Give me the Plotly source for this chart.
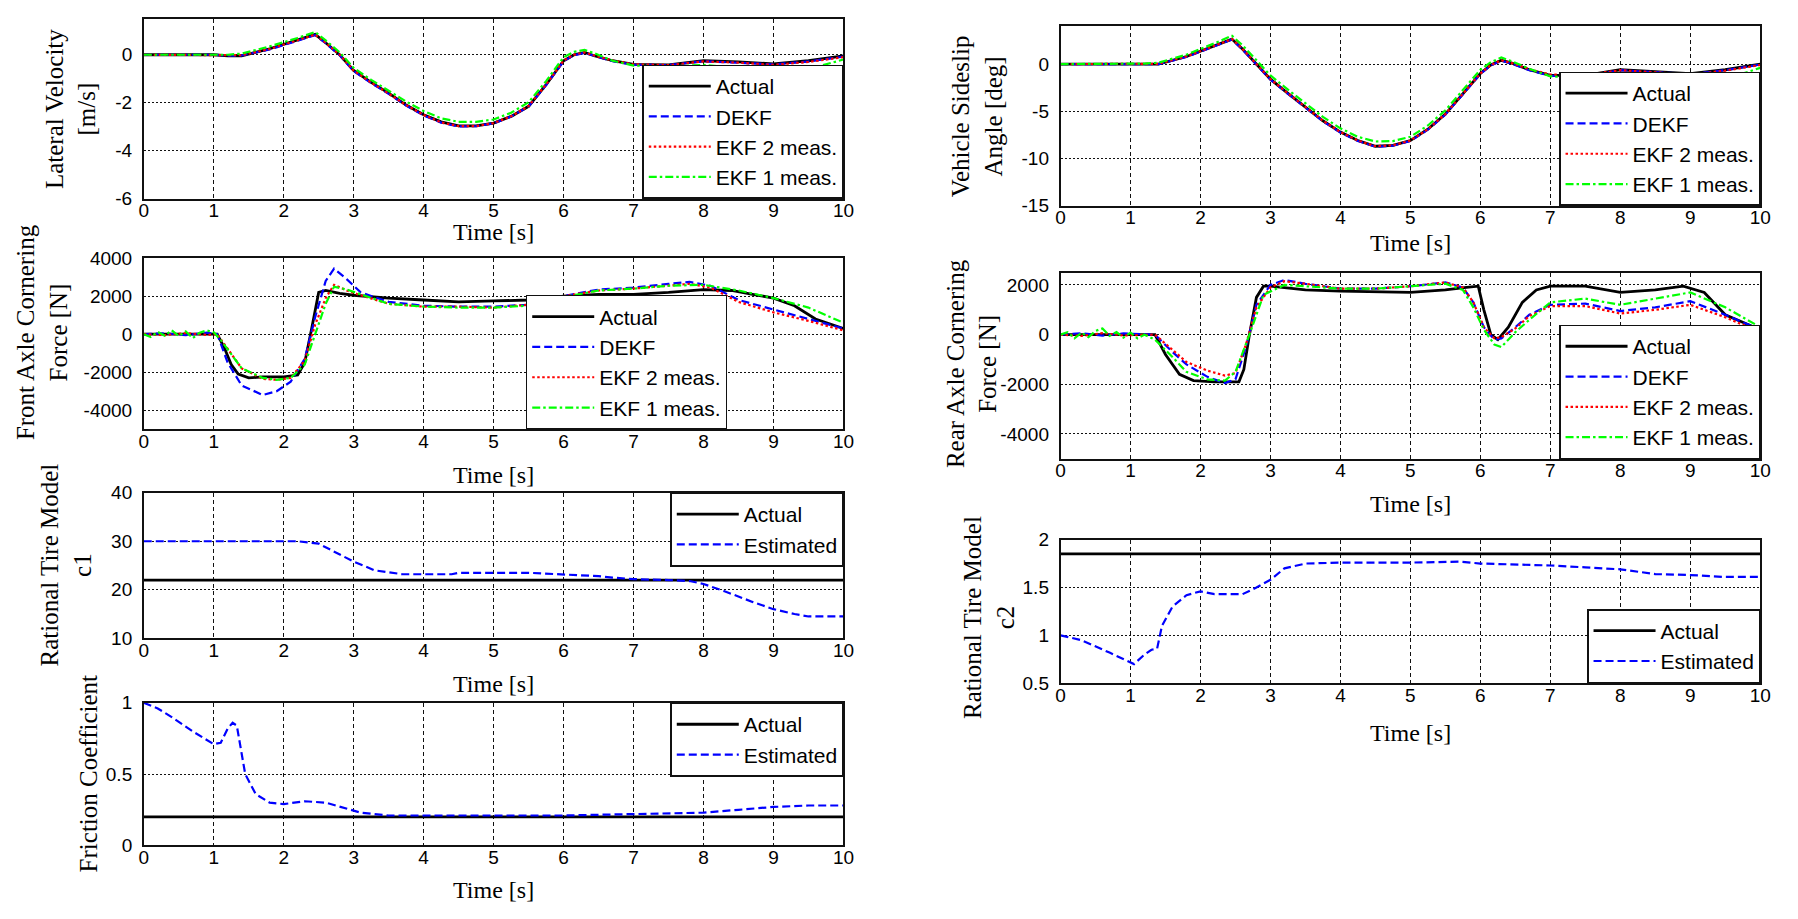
import plotly.graph_objects as go

# ---------------- data ----------------
# Lateral velocity [m/s] and sideslip angle [deg] share one time base
t_lat = [0, 1.0, 1.2, 1.4, 1.8, 2.2, 2.45, 2.6, 2.8, 3.0, 3.25, 3.5, 3.75, 4.0, 4.25, 4.5,
         4.75, 5.0, 5.25, 5.5, 5.75, 6.0, 6.15, 6.3, 6.45, 6.7, 7.0, 7.5, 8.0, 8.5, 9.0, 9.5, 10.0]

vy_actual = [0, 0, -0.05, -0.05, 0.25, 0.6, 0.85, 0.5, 0.0, -0.65, -1.15, -1.6, -2.1, -2.5, -2.8, -2.97,
             -2.97, -2.85, -2.57, -2.15, -1.25, -0.25, 0.0, 0.1, -0.05, -0.25, -0.4, -0.42, -0.25, -0.3, -0.38, -0.25, -0.05]
vy_dekf = [0, 0, -0.04, -0.03, 0.22, 0.57, 0.82, 0.48, -0.02, -0.68, -1.18, -1.63, -2.12, -2.53, -2.83, -2.99,
           -2.98, -2.86, -2.58, -2.16, -1.27, -0.27, -0.02, 0.08, -0.06, -0.27, -0.42, -0.43, -0.27, -0.32, -0.4, -0.28, -0.08]
vy_ekf2 = [0, 0, -0.03, -0.02, 0.24, 0.6, 0.84, 0.5, 0.0, -0.66, -1.16, -1.62, -2.1, -2.51, -2.82, -2.98,
           -2.98, -2.85, -2.57, -2.14, -1.24, -0.24, 0.0, 0.1, -0.04, -0.24, -0.4, -0.43, -0.28, -0.33, -0.42, -0.3, -0.1]
vy_ekf1 = [0, -0.02, 0.0, 0.05, 0.35, 0.7, 0.95, 0.6, 0.1, -0.55, -1.05, -1.5, -1.95, -2.35, -2.65, -2.8,
           -2.8, -2.7, -2.42, -1.98, -1.1, -0.1, 0.12, 0.2, 0.05, -0.25, -0.45, -0.5, -0.42, -0.55, -0.75, -0.6, -0.2]

beta_actual = [0, 0, 0, 0, 0.8, 1.9, 2.65, 1.6, 0.0, -1.6, -3.1, -4.6, -6.0, -7.2, -8.1, -8.7,
               -8.6, -8.1, -6.9, -5.3, -3.2, -1.0, -0.1, 0.4, 0.1, -0.6, -1.2, -1.2, -0.6, -0.8, -1.0, -0.6, 0.0]
beta_dekf = [0, 0, 0, 0, 0.75, 1.85, 2.6, 1.55, -0.05, -1.65, -3.15, -4.65, -6.05, -7.25, -8.15, -8.75,
             -8.65, -8.15, -6.95, -5.35, -3.25, -1.05, -0.15, 0.35, 0.05, -0.65, -1.25, -1.25, -0.65, -0.85, -1.05, -0.65, -0.05]
beta_ekf2 = [0, 0, 0.02, 0.03, 0.8, 1.9, 2.65, 1.6, 0.0, -1.6, -3.1, -4.6, -6.0, -7.2, -8.1, -8.7,
             -8.6, -8.1, -6.9, -5.3, -3.2, -1.0, -0.1, 0.4, 0.1, -0.55, -1.1, -1.15, -0.65, -0.9, -1.1, -0.7, -0.1]
beta_ekf1 = [0, 0, 0.05, 0.15, 1.0, 2.2, 3.0, 2.0, 0.4, -1.2, -2.7, -4.2, -5.6, -6.8, -7.7, -8.2,
             -8.15, -7.7, -6.5, -4.9, -2.8, -0.6, 0.2, 0.7, 0.3, -0.5, -1.3, -1.5, -1.0, -1.5, -2.1, -1.6, -0.4]

# Front axle cornering force [N]
t_ff_actual = [0, 1.05, 1.15, 1.25, 1.35, 1.5, 1.7, 2.0, 2.2, 2.3, 2.4, 2.5, 2.6, 2.8, 3.0, 3.5, 4.0,
               4.5, 5.0, 5.5, 6.0, 6.5, 7.0, 7.5, 8.0, 8.4, 8.7, 9.0, 9.3, 9.6, 10.0]
ff_actual = [0, 0, -700, -1600, -2100, -2300, -2250, -2250, -2150, -1500, 300, 2200, 2300, 2150, 2050, 1900, 1800,
             1700, 1750, 1800, 2000, 2100, 2100, 2200, 2350, 2300, 2100, 1900, 1500, 800, 300]
t_ff_est = [0, 0.3, 0.6, 0.9, 1.05, 1.2, 1.4, 1.7, 1.9, 2.1, 2.3, 2.45, 2.6, 2.72, 2.9, 3.1, 3.5, 4.0,
            4.5, 5.0, 5.5, 6.0, 6.5, 7.0, 7.5, 7.8, 8.1, 8.5, 9.0, 9.5, 10.0]
ff_dekf = [0, 50, -50, 80, 0, -1500, -2700, -3200, -3000, -2500, -1300, 900, 2800, 3450, 2900, 2200, 1700, 1500,
           1450, 1450, 1550, 2000, 2350, 2450, 2650, 2750, 2550, 1800, 1300, 800, 300]
ff_ekf2 = [0, -50, 60, -40, 0, -800, -1800, -2350, -2400, -2300, -1400, 500, 1900, 2600, 2300, 2050, 1600, 1450,
           1450, 1400, 1550, 2000, 2300, 2400, 2550, 2650, 2450, 1700, 1150, 700, 200]
t_ff_ekf1 = [0, 0.1, 0.2, 0.3, 0.4, 0.5, 0.6, 0.7, 0.8, 0.9, 1.0, 1.1, 1.2, 1.4, 1.7, 1.9, 2.1, 2.3, 2.45,
             2.6, 2.72, 2.9, 3.1, 3.5, 4.0, 4.5, 5.0, 5.5, 6.0, 6.5, 7.0, 7.5, 8.0, 8.5, 9.0, 9.5, 10.0]
ff_ekf1 = [0, -150, 120, -80, 200, -100, 150, -200, 80, 200, 100, -300, -800, -1800, -2300, -2400, -2300, -1600, 0,
           1600, 2500, 2350, 2100, 1600, 1450, 1400, 1400, 1500, 1950, 2300, 2400, 2550, 2600, 2300, 1900, 1400, 600]

# Rear axle cornering force [N]
t_fr_actual = [0, 1.35, 1.5, 1.7, 1.9, 2.2, 2.55, 2.62, 2.7, 2.8, 2.9, 3.0, 3.5, 4.0, 5.0, 5.5, 5.8, 5.97,
               6.05, 6.15, 6.25, 6.4, 6.6, 6.8, 7.0, 7.5, 8.0, 8.5, 8.9, 9.2, 9.5, 10.0]
fr_actual = [0, 0, -800, -1600, -1850, -1900, -1900, -1400, 0, 1500, 1950, 1950, 1800, 1750, 1700, 1800, 1900, 1950,
             1000, 0, -200, 300, 1300, 1800, 1950, 1950, 1700, 1800, 1950, 1700, 800, 200]
t_fr_est = [0, 0.3, 0.6, 0.9, 1.35, 1.6, 1.8, 2.1, 2.35, 2.5, 2.65, 2.8, 3.0, 3.2, 3.5, 4.0, 4.5, 5.0, 5.5,
            5.75, 5.9, 6.05, 6.2, 6.3, 6.5, 6.7, 7.0, 7.5, 8.0, 8.5, 9.0, 9.5, 10.0]
fr_dekf = [0, 60, -40, 50, 0, -700, -1200, -1700, -1950, -1800, -500, 1200, 2000, 2200, 2050, 1850, 1850, 1950, 2100,
           1900, 1300, 300, -200, -150, 300, 800, 1200, 1250, 950, 1100, 1350, 800, 200]
fr_ekf2 = [0, -50, 60, -30, 0, -600, -1100, -1450, -1650, -1550, -400, 1100, 1900, 2150, 2050, 1850, 1850, 1950, 2100,
           1900, 1300, 300, -150, -100, 250, 750, 1150, 1150, 850, 1000, 1200, 700, 100]
t_fr_ekf1 = [0, 0.1, 0.2, 0.3, 0.4, 0.5, 0.6, 0.7, 0.8, 0.9, 1.0, 1.1, 1.2, 1.35, 1.6, 1.8, 2.1, 2.35, 2.5, 2.7,
             2.9, 3.2, 3.5, 4.0, 4.5, 5.0, 5.5, 5.75, 5.9, 6.05, 6.2, 6.3, 6.5, 6.7, 7.0, 7.5, 8.0, 8.5, 9.0, 9.5, 10.0]
fr_ekf1 = [0, 100, -150, 80, -100, 150, 250, -50, 100, -120, 80, -150, 0, -200, -900, -1500, -1800, -1850, -1500, 0,
           1600, 2000, 1950, 1850, 1850, 1950, 2050, 1800, 1100, 200, -400, -500, 100, 600, 1300, 1450, 1200, 1450, 1700, 1100, 300]

# Rational tire model parameter c1
t_c1 = [0, 2.2, 2.5, 2.7, 3.0, 3.3, 3.7, 4.4, 4.5, 5.5, 6.0, 6.5, 6.7, 7.0, 7.5, 7.8, 8.0, 8.3, 8.7, 9.0, 9.3, 9.5, 10.0]
c1_est = [30, 30, 29.5, 28, 25.8, 24, 23.2, 23.2, 23.5, 23.5, 23.2, 22.8, 22.5, 22.2, 22, 21.8, 21.2, 19.7, 17.5, 16, 15, 14.5, 14.5]
c1_actual = 22

# Friction coefficient
t_mu = [0, 0.2, 0.4, 0.7, 1.0, 1.1, 1.2, 1.27, 1.33, 1.38, 1.45, 1.6, 1.8, 2.0, 2.3, 2.6, 2.8, 3.1, 3.5, 4.0,
        6.0, 7.0, 8.0, 8.5, 9.0, 9.5, 10.0]
mu_est = [1.0, 0.96, 0.9, 0.8, 0.71, 0.72, 0.82, 0.86, 0.84, 0.7, 0.5, 0.36, 0.3, 0.29, 0.31, 0.3, 0.27, 0.23, 0.21, 0.21,
          0.21, 0.22, 0.23, 0.25, 0.27, 0.28, 0.28]
mu_actual = 0.2

# Rational tire model parameter c2
t_c2 = [0, 0.3, 0.7, 1.0, 1.05, 1.2, 1.3, 1.38, 1.45, 1.6, 1.8, 2.0, 2.2, 2.6, 2.8, 3.0, 3.2, 3.5, 4.0, 5.0,
        5.7, 6.0, 7.0, 7.5, 8.0, 8.5, 9.0, 9.5, 10.0]
c2_est = [1.0, 0.95, 0.82, 0.72, 0.7, 0.8, 0.85, 0.86, 1.1, 1.3, 1.42, 1.46, 1.43, 1.43, 1.5, 1.58, 1.7, 1.75, 1.76, 1.76,
          1.77, 1.75, 1.73, 1.71, 1.69, 1.64, 1.63, 1.61, 1.61]
c2_actual = 1.85

# tick values
time_ticks = [0, 1, 2, 3, 4, 5, 6, 7, 8, 9, 10]
vy_ticks = [-6, -4, -2, 0]
beta_ticks = [-15, -10, -5, 0]
ff_ticks = [-4000, -2000, 0, 2000, 4000]
fr_ticks = [-4000, -2000, 0, 2000]
c1_ticks = [10, 20, 30, 40]
mu_ticks = [0, 0.5, 1]
c2_ticks = [0.5, 1, 1.5, 2]

# ---------------- layout helpers ----------------
W, H = 1798, 919
SERIF = "Liberation Serif, Times New Roman, serif"
SANS = "Liberation Sans, Arial, sans-serif"


def px_x(p):
    return p / W


def px_y(p):
    return 1 - p / H


def labels(vals):
    # plain hyphen-minus labels
    return [f"{v:g}" for v in vals]


STYLE = {
    "Actual": dict(color="black", width=2.8, dash="solid"),
    "DEKF": dict(color="#0000ff", width=2.2, dash="8px,4px"),
    "EKF 2 meas.": dict(color="#ff0000", width=2.2, dash="2.5px,2.5px"),
    "EKF 1 meas.": dict(color="#00ff00", width=2.2, dash="8px,3px,2.5px,3px"),
    "Estimated": dict(color="#0000ff", width=2.2, dash="8px,4px"),
}

fig = go.Figure()

LEFT = (140, 846)
RIGHT = (1065, 1771)
panels = {
    1: dict(x=LEFT, y=(9, 193), yr=[-6, 1.5], ticks=vy_ticks),
    2: dict(x=RIGHT, y=(16.7, 200.3), yr=[-15, 4], ticks=beta_ticks),
    3: dict(x=LEFT, y=(254, 429), yr=[-5000, 4000], ticks=ff_ticks),
    4: dict(x=RIGHT, y=(268.7, 459.3), yr=[-5000, 2500], ticks=fr_ticks),
    5: dict(x=LEFT, y=(494, 643), yr=[10, 40], ticks=c1_ticks),
    6: dict(x=LEFT, y=(709, 855), yr=[0, 1], ticks=mu_ticks),
    7: dict(x=RIGHT, y=(542, 689), yr=[0.5, 2], ticks=c2_ticks),
}


def add(i, name, t, v):
    s = STYLE[name]
    fig.add_trace(go.Scatter(
        x=t, y=v, mode="lines", name=name,
        line=dict(color=s["color"], width=s["width"], dash=s["dash"]),
        xaxis="x" if i == 1 else f"x{i}", yaxis="y" if i == 1 else f"y{i}",
        legend="legend" if i == 1 else f"legend{i}",
    ))


add(1, "Actual", t_lat, vy_actual)
add(1, "DEKF", t_lat, vy_dekf)
add(1, "EKF 2 meas.", t_lat, vy_ekf2)
add(1, "EKF 1 meas.", t_lat, vy_ekf1)

add(2, "Actual", t_lat, beta_actual)
add(2, "DEKF", t_lat, beta_dekf)
add(2, "EKF 2 meas.", t_lat, beta_ekf2)
add(2, "EKF 1 meas.", t_lat, beta_ekf1)

add(3, "Actual", t_ff_actual, ff_actual)
add(3, "DEKF", t_ff_est, ff_dekf)
add(3, "EKF 2 meas.", t_ff_est, ff_ekf2)
add(3, "EKF 1 meas.", t_ff_ekf1, ff_ekf1)

add(4, "Actual", t_fr_actual, fr_actual)
add(4, "DEKF", t_fr_est, fr_dekf)
add(4, "EKF 2 meas.", t_fr_est, fr_ekf2)
add(4, "EKF 1 meas.", t_fr_ekf1, fr_ekf1)

add(5, "Actual", [0, 10], [c1_actual, c1_actual])
add(5, "Estimated", t_c1, c1_est)

add(6, "Actual", [0, 10], [mu_actual, mu_actual])
add(6, "Estimated", t_mu, mu_est)

add(7, "Actual", [0, 10], [c2_actual, c2_actual])
add(7, "Estimated", t_c2, c2_est)

layout = dict(
    width=W, height=H,
    margin=dict(l=0, r=0, t=0, b=0),
    paper_bgcolor="white", plot_bgcolor="white",
    showlegend=True,
)

for i, p in panels.items():
    xk = "xaxis" if i == 1 else f"xaxis{i}"
    yk = "yaxis" if i == 1 else f"yaxis{i}"
    layout[xk] = dict(
        domain=[px_x(p["x"][0]), px_x(p["x"][1])],
        anchor="y" if i == 1 else f"y{i}",
        range=[0, 10], tickmode="array", tickvals=time_ticks, ticktext=labels(time_ticks),
        showgrid=True, gridcolor="#111", gridwidth=1, griddash="4px,3px",
        showline=True, mirror=True, linecolor="#111", linewidth=1.5,
        zeroline=False, ticks="", ticklen=0, ticklabelstandoff=-6,
        tickfont=dict(family=SANS, size=19, color="black"),
    )
    layout[yk] = dict(
        domain=[px_y(p["y"][1]), px_y(p["y"][0])],
        anchor="x" if i == 1 else f"x{i}",
        range=p["yr"], tickmode="array", tickvals=p["ticks"], ticktext=labels(p["ticks"]),
        showgrid=True, gridcolor="#111", gridwidth=1, griddash="2px,2px",
        showline=True, mirror=True, linecolor="#111", linewidth=1.5,
        zeroline=False, ticks="", ticklen=0, ticklabelstandoff=6,
        tickfont=dict(family=SANS, size=19, color="black"),
    )

# legends placed in the panel corners
legend_pos = {
    1: (846, 193, "right", "bottom"),
    2: (1771, 200.3, "right", "bottom"),
    3: (627, 429, "center", "bottom"),
    4: (1771, 459.3, "right", "bottom"),
    5: (846, 494, "right", "top"),
    6: (846, 709, "right", "top"),
    7: (1771, 689, "right", "bottom"),
}
for i, (lx, ly, xa, ya) in legend_pos.items():
    key = "legend" if i == 1 else f"legend{i}"
    layout[key] = dict(
        x=px_x(lx), y=px_y(ly), xanchor=xa, yanchor=ya,
        xref="paper", yref="paper",
        bgcolor="white", bordercolor="#111", borderwidth=1.3,
        font=dict(family=SANS, size=21, color="black"),
        itemwidth=62, tracegroupgap=0,
    )

fig.update_layout(**layout)

# axis titles
x_titles = [
    (493, 227), (1418, 238), (493, 476), (1418, 506), (493, 690), (493, 901), (1418, 740),
]
y_titles = [
    ("Lateral Velocity<br>[m/s]", 66, 101),
    ("Vehicle Sideslip<br>Angle [deg]", 981, 108.5),
    ("Front Axle Cornering<br>Force [N]", 38, 330),
    ("Rear Axle Cornering<br>Force [N]", 975, 362),
    ("Rational Tire Model<br>c1", 62, 568),
    ("Friction Coefficient", 84, 782),
    ("Rational Tire Model<br>c2", 993, 622),
]
for (x, y) in x_titles:
    fig.add_annotation(text="Time [s]", x=px_x(x), y=px_y(y), xref="paper", yref="paper",
                       xanchor="center", yanchor="middle", showarrow=False,
                       font=dict(family=SERIF, size=24, color="black"))
for (txt, x, y) in y_titles:
    fig.add_annotation(text=txt, x=px_x(x), y=px_y(y), xref="paper", yref="paper",
                       xanchor="center", yanchor="middle", showarrow=False, textangle=-90,
                       font=dict(family=SERIF, size=25, color="black"))

fig.write_html("out.html")
